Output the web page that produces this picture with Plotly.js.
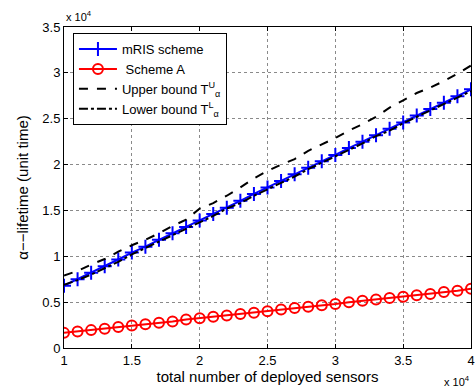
<!DOCTYPE html>
<html><head><meta charset="utf-8">
<script src="https://cdn.plot.ly/plotly-3.0.1.min.js"></script>
<style>html,body{margin:0;padding:0;background:#fff;}#chart{width:475px;height:390px;}</style>
</head><body><div id="chart"></div>
<script>
const sensors = [1.0,1.1,1.2,1.3,1.4,1.5,1.6,1.7,1.8,1.9,2.0,2.1,2.2,2.3,2.4,2.5,2.6,2.7,2.8,2.9,3.0,3.1,3.2,3.3,3.4,3.5,3.6,3.7,3.8,3.9,4.0];
const mris = [0.68,0.75,0.82,0.89,0.965,1.04,1.105,1.18,1.25,1.32,1.39,1.46,1.53,1.605,1.68,1.75,1.82,1.895,1.965,2.035,2.105,2.18,2.25,2.32,2.39,2.46,2.535,2.605,2.675,2.745,2.82];
const schemeA = [0.165,0.18,0.195,0.21,0.23,0.245,0.26,0.275,0.29,0.31,0.325,0.34,0.355,0.37,0.385,0.40,0.42,0.435,0.45,0.465,0.48,0.50,0.515,0.53,0.545,0.56,0.575,0.59,0.61,0.625,0.645];
const upper = [0.79,0.84,0.91,0.97,1.05,1.12,1.18,1.25,1.33,1.40,1.52,1.58,1.66,1.75,1.85,1.93,2.00,2.06,2.15,2.22,2.29,2.37,2.44,2.52,2.62,2.70,2.78,2.84,2.91,2.99,3.08];
const lower = [0.69,0.74,0.80,0.87,0.94,1.02,1.09,1.16,1.23,1.30,1.37,1.44,1.52,1.58,1.66,1.73,1.80,1.87,1.95,2.02,2.09,2.16,2.23,2.31,2.37,2.45,2.52,2.59,2.66,2.73,2.80];
const xTicks = [1,1.5,2,2.5,3,3.5,4];
const xTickText = ['1','1.5','2','2.5','3','3.5','4'];
const yTicks = [0,0.5,1,1.5,2,2.5,3,3.5];
const yTickText = ['0','0.5','1','1.5','2','2.5','3','3.5'];
const names = ['mRIS scheme',' Scheme A','Upper bound T<sup>U</sup><sub>α</sub>','Lower bound T<sup>L</sup><sub>α</sub>'];

const traces = [
  {x: sensors, y: mris, name: names[0], mode: 'lines+markers', line:{color:'#0000ff', width:2},
   marker:{symbol:'cross-thin', size:10, line:{color:'#0000ff', width:2}}},
  {x: sensors, y: schemeA, name: names[1], mode: 'lines+markers', line:{color:'#ff0000', width:2},
   marker:{symbol:'circle-open', size:10, color:'#ff0000', line:{color:'#ff0000', width:2}}},
  {x: sensors, y: upper, name: names[2], mode: 'lines', line:{color:'#000', width:2, dash:'dash'}},
  {x: sensors, y: lower, name: names[3], mode: 'lines', line:{color:'#000', width:2, dash:'dashdot'}}
];
const ax = {showline:true, linecolor:'#000', linewidth:1, mirror:'ticks', ticks:'inside', ticklen:4, tickcolor:'#000',
  showgrid:true, gridcolor:'#8a8a8a', griddash:'dot', gridwidth:1, zeroline:false, ticklabeloverflow:'allow',
  tickfont:{family:'Liberation Sans, Arial, sans-serif', size:13, color:'#000'}};
const layout = {
  width:475, height:390, margin:{l:64, r:4, t:27, b:42},
  paper_bgcolor:'#fff', plot_bgcolor:'#fff', showlegend:true,
  font:{family:'Liberation Sans, Arial, sans-serif', color:'#000'},
  xaxis: Object.assign({}, ax, {range:[1,4], tickvals:xTicks, ticktext:xTickText,
    title:{text:'total number of deployed sensors', font:{size:15}, standoff:4}}),
  yaxis: Object.assign({}, ax, {range:[0,3.5], tickvals:yTicks, ticktext:yTickText,
    title:{text:'α−−lifetime (unit time)', font:{size:15}, standoff:10}}),
  legend:{x:0.022, y:0.981, xanchor:'left', yanchor:'top', bgcolor:'#fff', bordercolor:'#000', borderwidth:1,
    font:{size:13, color:'#000'}, tracegroupgap:0, itemwidth:38},
  annotations:[
    {xref:'paper', yref:'paper', x:0, y:1, xanchor:'left', yanchor:'bottom', yshift:2, showarrow:false,
     text:'x 10<sup>4</sup>', font:{size:11}},
    {xref:'paper', yref:'paper', x:1, y:0, xanchor:'right', yanchor:'top', yshift:-24, xshift:1, showarrow:false,
     text:'x 10<sup>4</sup>', font:{size:11}}
  ]
};
Plotly.newPlot('chart', traces, layout, {displayModeBar:false, staticPlot:true});
</script></body></html>
